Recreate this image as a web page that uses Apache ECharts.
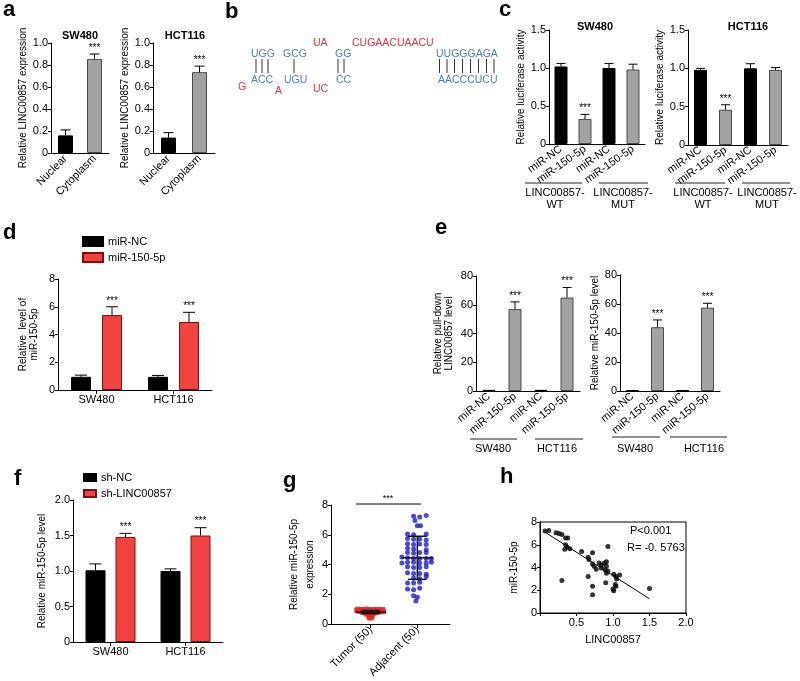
<!DOCTYPE html>
<html>
<head>
<meta charset="utf-8">
<script src="https://cdn.jsdelivr.net/npm/echarts@6/dist/echarts.min.js"></script>
<style>
  html, body { margin: 0; padding: 0; background: #fff; }
  #chart { width: 800px; height: 681px; }
</style>
</head>
<body>
<div id="chart"></div>
<script>
// ---- data ----
// a: subcellular fraction
const aCategories = ['Nuclear', 'Cytoplasm'];
const aSW480 = [0.16, 0.855];
const aSW480Err = [0.05, 0.045];
const aHCT116 = [0.14, 0.735];
const aHCT116Err = [0.045, 0.055];
const aSig = ['', '***'];

// c: luciferase
const cCategories = ['miR-NC', 'miR-150-5p', 'miR-NC', 'miR-150-5p'];
const cSW480 = [1.02, 0.33, 1.0, 0.98];
const cSW480Err = [0.04, 0.06, 0.06, 0.07];
const cHCT116 = [0.98, 0.46, 1.0, 0.98];
const cHCT116Err = [0.02, 0.065, 0.06, 0.03];
const cSig = ['', '***', '', ''];

// d: mimic
const dCategories = ['SW480', 'HCT116'];
const dNC = [0.95, 0.95];
const dNCErr = [0.12, 0.1];
const dMiR = [5.4, 4.9];
const dMiRErr = [0.6, 0.7];

// e: pull-down
const eCategories = ['miR-NC', 'miR-150-5p', 'miR-NC', 'miR-150-5p'];
const ePull = [0.8, 57, 0.8, 65];
const ePullErr = [0, 5, 0, 7];
const eMiR = [0.5, 44, 0.5, 57.5];
const eMiRErr = [0, 5, 0, 3];
const eSig = ['', '***', '', '***'];

// f: knockdown
const fCategories = ['SW480', 'HCT116'];
const fNC = [1.01, 1.0];
const fNCErr = [0.09, 0.03];
const fSh = [1.48, 1.5];
const fShErr = [0.05, 0.11];

// g: tissues
const gCategories = ['Tumor (50)', 'Adjacent (50)'];
const tumorX = [0.72,0.78,0.84,0.9,0.96,1.02,1.08,1.14,1.2,1.26, 0.7,0.76,0.82,0.88,0.94,1.0,1.06,1.12,1.18,1.24, 0.74,0.8,0.86,0.92,0.98,1.04,1.1,1.16,1.22,1.28, 0.82,0.88,0.94,1.0,1.06,1.12, 0.9,0.96,1.02,1.08, 0.92,0.98,1.04,1.0, 0.96,1.02,0.98,1.0,0.97,1.01];
const tumorY = [1.0,0.98,0.97,1.0,0.99,0.96,0.95,1.0,0.97,0.98, 0.92,0.9,0.93,0.91,0.89,0.9,0.94,0.88,0.92,0.9, 0.85,0.84,0.86,0.83,0.85,0.82,0.86,0.84,0.81,0.83, 0.78,0.76,0.8,0.77,0.75,0.79, 0.72,0.7,0.68,0.73, 0.65,0.62,0.6,0.58, 0.55,0.5,0.48,0.45,0.42,0.4];
const adjX = [1.92,2.05,2.19, 1.95, 2.0,2.07, 1.79,1.92,2.19, 1.79,1.92,2.05,2.19, 1.79,1.92,2.05,2.19, 1.79,1.92,2.19, 1.79,1.92,2.05,2.19, 1.67,1.79,1.92,2.05,2.19,2.30, 1.67,1.79,1.92,2.05,2.19,2.30, 1.79,1.92,2.05,2.19, 1.79,1.92,2.05,2.19, 1.92,2.05,2.19, 1.79,1.92,2.05, 1.79,1.92,2.05, 1.92,2.0, 1.97];
const adjY = [7.25,7.2,7.3, 6.95, 6.6,6.6, 6.05,6.0,6.05, 5.75,5.7,5.72,5.65, 5.4,5.35,5.38,5.35, 5.1,5.05,5.0, 4.8,4.75,4.8,4.8, 4.5,4.45,4.4,4.4,4.4,4.4, 4.1,4.15,4.15,4.1,4.1,4.15, 3.85,3.8,3.8,3.85, 3.45,3.4,3.4,3.35, 3.1,3.05,3.2, 2.75,2.75,2.8, 2.35,2.3,2.4, 1.9,1.8, 1.55];
const gMean = [0.8, 4.45];
const gSD = [0.1, 1.45];

// h: correlation
const hX = [0.07,0.12,0.22,0.26,0.30,0.35,0.38,0.35,0.37,0.34,0.41,0.57,0.66,0.67,0.72,0.72,0.74,0.81,0.84,0.88,0.91,0.77,0.84,0.89,0.91,0.93,0.91,0.93,0.66,0.90,1.01,1.04,1.09,1.05,1.03,1.04,1.00,1.01,0.72,0.72,0.30,1.50];
const hY = [7.2,7.25,7.06,7.0,6.9,6.6,6.6,6.0,5.8,5.6,5.65,5.4,4.9,4.7,5.3,4.3,4.1,4.4,4.2,4.4,4.1,3.85,3.95,3.8,3.5,3.7,4.5,5.85,3.2,2.65,3.4,3.2,3.35,3.0,2.5,2.35,2.1,1.95,2.35,1.6,2.85,2.15];
const hFit = [[0.07, 7.1], [1.5, 1.25]];

// ---- styling helpers ----
const FONT = '"Liberation Sans", Arial, sans-serif';
const BLACK = '#000000';
const GRAY = '#a2a2a2';
const RED = '#f0423f';
const BLUE_RNA = '#4f7bb8';
const RED_RNA = '#e0323a';
const dec1 = v => (v === 0 ? '0' : v.toFixed(1));

function valueAxis(grid, max, interval, name, gap, fmt, lh) {
  return {
    type: 'value', gridIndex: grid, min: 0, max: max, interval: interval,
    name: name, nameLocation: 'middle', nameGap: gap, nameRotate: 90,
    nameTextStyle: { fontSize: 10, color: '#000', fontFamily: FONT, lineHeight: lh || 11 },
    axisLine: { show: true, onZero: false, lineStyle: { color: '#000', width: 1 } },
    axisTick: { show: true, length: 3, lineStyle: { color: '#000' } },
    splitLine: { show: false },
    axisLabel: { fontSize: 11, color: '#000', margin: 3, fontFamily: FONT, formatter: fmt || (v => String(v)) }
  };
}
function catAxis(grid, data, rotate, ticks) {
  return {
    type: 'category', gridIndex: grid, data: data,
    axisLine: { show: true, lineStyle: { color: '#000', width: 1 } },
    axisTick: { show: !!ticks, alignWithLabel: true, length: 4, lineStyle: { color: '#000' } },
    axisLabel: { rotate: rotate, fontSize: 11, color: '#000', margin: 4, interval: 0, fontFamily: FONT }
  };
}
function bars(axis, values, colors, width) {
  return {
    type: 'bar', xAxisIndex: axis, yAxisIndex: axis, barWidth: width, silent: true,
    data: values.map((v, i) => ({
      value: v,
      itemStyle: { color: colors[i], borderColor: colors[i] === GRAY ? '#4a4a4a' : '#000', borderWidth: 1 }
    }))
  };
}
function errBars(axis, values, errs, sigs, cap, offset) {
  return {
    type: 'custom', xAxisIndex: axis, yAxisIndex: axis, silent: true, z: 3,
    data: values.map((v, i) => [i, v, errs[i]]),
    renderItem: (params, api) => {
      const base = api.coord([api.value(0), api.value(1)]);
      const top = api.coord([api.value(0), api.value(1) + api.value(2)]);
      const x = base[0] + (offset || 0);
      const kids = [];
      if (api.value(2) > 0) {
        kids.push({ type: 'line', shape: { x1: x, y1: base[1], x2: x, y2: top[1] }, style: { stroke: '#000', lineWidth: 1 } });
        kids.push({ type: 'line', shape: { x1: x - cap / 2, y1: top[1], x2: x + cap / 2, y2: top[1] }, style: { stroke: '#000', lineWidth: 1 } });
      }
      const s = sigs ? sigs[params.dataIndex] : '';
      if (s) {
        kids.push({ type: 'text', x: x, y: top[1] - 1,
          style: { text: s, align: 'center', verticalAlign: 'bottom', textAlign: 'center', textVerticalAlign: 'bottom',
                   fontSize: 10, fontFamily: FONT, fill: '#000' } });
      }
      return { type: 'group', children: kids };
    }
  };
}
function txt(x, y, s, opt) {
  opt = opt || {};
  return {
    type: 'text', x: x, y: y, silent: true,
    style: {
      text: s, fill: opt.color || '#000', fontSize: opt.size || 11, fontWeight: opt.weight || 'normal',
      fontFamily: FONT, lineHeight: opt.lh,
      align: opt.align || 'left', verticalAlign: 'middle',
      textAlign: opt.align || 'left', textVerticalAlign: 'middle'
    }
  };
}
function seg(x1, y1, x2, y2, color) {
  return { type: 'line', silent: true, shape: { x1: x1, y1: y1, x2: x2, y2: y2 }, style: { stroke: color || '#222', lineWidth: 1 } };
}

// ---- panel b: duplex drawing ----
const bGraphic = [
  txt(313, 43, 'UA', { color: RED_RNA, size: 10.5 }),
  txt(352, 43, 'CUGAACUAACU', { color: RED_RNA, size: 10.5 }),
  txt(251, 54, 'UGG', { color: BLUE_RNA, size: 10.5 }),
  txt(283, 54, 'GCG', { color: BLUE_RNA, size: 10.5 }),
  txt(335, 54, 'GG', { color: BLUE_RNA, size: 10.5 }),
  txt(436, 54, 'UUGGGAGA', { color: BLUE_RNA, size: 10.5 }),
  txt(251, 80, 'ACC', { color: BLUE_RNA, size: 10.5 }),
  txt(284, 80, 'UGU', { color: BLUE_RNA, size: 10.5 }),
  txt(336, 80, 'CC', { color: BLUE_RNA, size: 10.5 }),
  txt(438, 80, 'AACCCUCU', { color: BLUE_RNA, size: 10.5 }),
  txt(238, 87, 'G', { color: RED_RNA, size: 10.5 }),
  txt(275, 91, 'A', { color: RED_RNA, size: 10.5 }),
  txt(313, 89, 'UC', { color: RED_RNA, size: 10.5 })
];
[256, 262, 268, 294, 338, 344, 439.5, 447, 454.5, 462.5, 470.5, 478.5, 486.5, 494].forEach(x => {
  bGraphic.push(seg(x, 59, x, 73, '#333'));
});

// ---- annotations ----
const annotations = [
  txt(3, 10, 'a', { size: 22, weight: 'bold' }),
  txt(225, 12, 'b', { size: 22, weight: 'bold' }),
  txt(499, 10, 'c', { size: 22, weight: 'bold' }),
  txt(3, 233, 'd', { size: 22, weight: 'bold' }),
  txt(435, 228, 'e', { size: 22, weight: 'bold' }),
  txt(14, 479, 'f', { size: 22, weight: 'bold' }),
  txt(283, 481, 'g', { size: 22, weight: 'bold' }),
  txt(500, 477, 'h', { size: 22, weight: 'bold' }),

  txt(80, 36, 'SW480', { size: 11, weight: 'bold', align: 'center' }),
  txt(185, 36, 'HCT116', { size: 11, weight: 'bold', align: 'center' }),
  txt(595, 27, 'SW480', { size: 11, weight: 'bold', align: 'center' }),
  txt(748, 27, 'HCT116', { size: 11, weight: 'bold', align: 'center' }),

  seg(525, 183, 582, 183), seg(599, 183, 648, 183), seg(675, 183, 725, 183), seg(742, 183, 790, 183),
  txt(555, 199, 'LINC00857-\nWT', { align: 'center', lh: 12 }),
  txt(623, 199, 'LINC00857-\nMUT', { align: 'center', lh: 12 }),
  txt(703, 199, 'LINC00857-\nWT', { align: 'center', lh: 12 }),
  txt(767, 199, 'LINC00857-\nMUT', { align: 'center', lh: 12 }),

  seg(470, 439, 517, 439), seg(535, 439, 583, 439), seg(612, 437, 660, 437), seg(670, 437, 727, 437),
  txt(493, 449, 'SW480', { align: 'center' }),
  txt(557, 449, 'HCT116', { align: 'center' }),
  txt(635, 449, 'SW480', { align: 'center' }),
  txt(704, 449, 'HCT116', { align: 'center' }),

  seg(356, 504, 421, 504, '#000'),
  txt(388, 499, '***', { size: 9, align: 'center' }),

  txt(630, 531, 'P<0.001'),
  txt(627, 548, 'R= -0. 5763')
];

// ---- chart ----
const chart = echarts.init(document.getElementById('chart'), null, { renderer: 'canvas' });

const grids = [
  { left: 51, top: 43, width: 58, height: 110 },   // a SW480
  { left: 153, top: 43, width: 62, height: 110 },  // a HCT116
  { left: 549, top: 30, width: 96, height: 114 },  // c SW480
  { left: 688, top: 30, width: 100, height: 115 }, // c HCT116
  { left: 58, top: 279, width: 154, height: 111 }, // d
  { left: 476, top: 276, width: 104, height: 115 },// e left
  { left: 620, top: 275, width: 100, height: 116 },// e right
  { left: 73, top: 500, width: 150, height: 142 }, // f
  { left: 331, top: 505, width: 119, height: 119 },// g
  { left: 540, top: 522, width: 146, height: 91, show: true, borderColor: '#000', borderWidth: 1, backgroundColor: 'transparent' } // h
].map(g => Object.assign({ outerBoundsMode: 'none', containLabel: false }, g));

const xAxes = [
  catAxis(0, aCategories, 45),
  catAxis(1, aCategories, 45),
  catAxis(2, cCategories, 35),
  catAxis(3, cCategories, 35),
  catAxis(4, dCategories, 0, true),
  catAxis(5, eCategories, 40),
  catAxis(6, eCategories, 40),
  catAxis(7, fCategories, 0, true),
  {
    type: 'value', gridIndex: 8, min: 0.15, max: 2.7,
    axisLine: { show: true, onZero: false, lineStyle: { color: '#000' } },
    splitLine: { show: false },
    axisTick: { show: true, customValues: [1, 2], length: 4, lineStyle: { color: '#000' } },
    axisLabel: { customValues: [1, 2], rotate: 45, fontSize: 11, color: '#000', margin: 4, fontFamily: FONT,
                 formatter: v => gCategories[Math.round(v) - 1] || '' }
  },
  {
    type: 'value', gridIndex: 9, min: 0, max: 2, interval: 0.5,
    name: 'LINC00857', nameLocation: 'middle', nameGap: 21,
    nameTextStyle: { fontSize: 11, color: '#000', fontFamily: FONT },
    axisLine: { show: true, onZero: false, lineStyle: { color: '#000' } },
    splitLine: { show: false },
    axisTick: { show: true, length: 3, lineStyle: { color: '#000' } },
    axisLabel: { fontSize: 11, color: '#000', margin: 4, fontFamily: FONT, formatter: v => (v === 0 ? '' : v.toFixed(1)) }
  }
];

const yAxes = [
  valueAxis(0, 1.0, 0.2, 'Relative LINC00857 expression', 16, dec1),
  valueAxis(1, 1.0, 0.2, 'Relative LINC00857 expression', 16, dec1),
  valueAxis(2, 1.5, 0.5, 'Relative luciferase activity', 22, dec1),
  valueAxis(3, 1.5, 0.5, 'Relative luciferase activity', 19, dec1),
  valueAxis(4, 8, 2, 'Relative  level of\nmiR-150-5p', 18),
  valueAxis(5, 80, 20, 'Relative pull-down\nLINC00857 level', 21),
  valueAxis(6, 80, 20, 'Relative miR-150-5p level', 19),
  valueAxis(7, 2.0, 0.5, 'Relative miR-150-5p level', 25, dec1),
  valueAxis(8, 8, 2, 'Relative miR-150-5p\nexpression', 13, null, 16),
  valueAxis(9, 8, 2, 'miR-150-5p', 20)
];

const series = [
  // a
  bars(0, aSW480, [BLACK, GRAY], 15), errBars(0, aSW480, aSW480Err, aSig, 10),
  bars(1, aHCT116, [BLACK, GRAY], 15), errBars(1, aHCT116, aHCT116Err, aSig, 10),
  // c
  bars(2, cSW480, [BLACK, GRAY, BLACK, GRAY], 13), errBars(2, cSW480, cSW480Err, cSig, 9),
  bars(3, cHCT116, [BLACK, GRAY, BLACK, GRAY], 13), errBars(3, cHCT116, cHCT116Err, cSig, 9),
  // d
  { name: 'miR-NC', type: 'bar', xAxisIndex: 4, yAxisIndex: 4, barWidth: 20, barGap: '55%', silent: true,
    itemStyle: { color: BLACK, borderColor: '#000', borderWidth: 1 }, data: dNC },
  { name: 'miR-150-5p', type: 'bar', xAxisIndex: 4, yAxisIndex: 4, barWidth: 20, barGap: '55%', silent: true,
    itemStyle: { color: RED, borderColor: '#7a1010', borderWidth: 1 }, data: dMiR },
  errBars(4, dNC, dNCErr, null, 12, -15.5),
  errBars(4, dMiR, dMiRErr, ['***', '***'], 12, 15.5),
  // e
  bars(5, ePull, [BLACK, GRAY, BLACK, GRAY], 13), errBars(5, ePull, ePullErr, eSig, 9),
  bars(6, eMiR, [BLACK, GRAY, BLACK, GRAY], 13), errBars(6, eMiR, eMiRErr, eSig, 9),
  // f
  { name: 'sh-NC', type: 'bar', xAxisIndex: 7, yAxisIndex: 7, barWidth: 20, barGap: '50%', silent: true,
    itemStyle: { color: BLACK, borderColor: '#000', borderWidth: 1 }, data: fNC },
  { name: 'sh-LINC00857', type: 'bar', xAxisIndex: 7, yAxisIndex: 7, barWidth: 20, barGap: '50%', silent: true,
    itemStyle: { color: RED, borderColor: '#7a1010', borderWidth: 1 }, data: fSh },
  errBars(7, fNC, fNCErr, null, 12, -15),
  errBars(7, fSh, fShErr, ['***', '***'], 12, 15),
  // g
  { type: 'scatter', xAxisIndex: 8, yAxisIndex: 8, symbol: 'rect', symbolSize: 5, silent: true,
    itemStyle: { color: '#e8262c' }, data: tumorX.map((x, i) => [x, tumorY[i]]) },
  { type: 'scatter', xAxisIndex: 8, yAxisIndex: 8, symbol: 'circle', symbolSize: 5, silent: true,
    itemStyle: { color: '#1c1cc8' }, data: adjX.map((x, i) => [x, adjY[i]]) },
  { type: 'custom', xAxisIndex: 8, yAxisIndex: 8, silent: true, z: 5,
    data: gMean.map((m, i) => [i + 1, m, gSD[i]]),
    renderItem: (params, api) => {
      const c = api.value(0), m = api.value(1), sd = api.value(2);
      const ml = api.coord([c - 0.33, m]), mr = api.coord([c + 0.33, m]);
      const lo = api.coord([c, m - sd]), hi = api.coord([c, m + sd]);
      const cl = api.coord([c - 0.2, m]), cr = api.coord([c + 0.2, m]);
      const st = { stroke: '#111', lineWidth: 1.5 };
      return { type: 'group', children: [
        { type: 'line', shape: { x1: ml[0], y1: ml[1], x2: mr[0], y2: mr[1] }, style: st },
        { type: 'line', shape: { x1: lo[0], y1: lo[1], x2: hi[0], y2: hi[1] }, style: st },
        { type: 'line', shape: { x1: cl[0], y1: lo[1], x2: cr[0], y2: lo[1] }, style: st },
        { type: 'line', shape: { x1: cl[0], y1: hi[1], x2: cr[0], y2: hi[1] }, style: st }
      ] };
    } },
  // h
  { type: 'scatter', xAxisIndex: 9, yAxisIndex: 9, symbolSize: 5, silent: true,
    itemStyle: { color: '#000' }, data: hX.map((x, i) => [x, hY[i]]) },
  { type: 'line', xAxisIndex: 9, yAxisIndex: 9, symbol: 'none', silent: true,
    lineStyle: { color: '#000', width: 1 }, data: hFit }
];

chart.setOption({
  animation: false,
  backgroundColor: '#ffffff',
  textStyle: { fontFamily: FONT },
  grid: grids,
  xAxis: xAxes,
  yAxis: yAxes,
  legend: [
    { left: 82, top: 236, orient: 'vertical', padding: 0, itemWidth: 20, itemHeight: 9, itemGap: 5,
      icon: 'rect', selectedMode: false, data: ['miR-NC', 'miR-150-5p'],
      textStyle: { fontSize: 11, color: '#000', fontFamily: FONT } },
    { left: 83, top: 472, orient: 'vertical', padding: 0, itemWidth: 12, itemHeight: 7, itemGap: 5,
      icon: 'rect', selectedMode: false, data: ['sh-NC', 'sh-LINC00857'],
      textStyle: { fontSize: 11, color: '#000', fontFamily: FONT } }
  ],
  graphic: bGraphic.concat(annotations),
  series: series
});
</script>
</body>
</html>
